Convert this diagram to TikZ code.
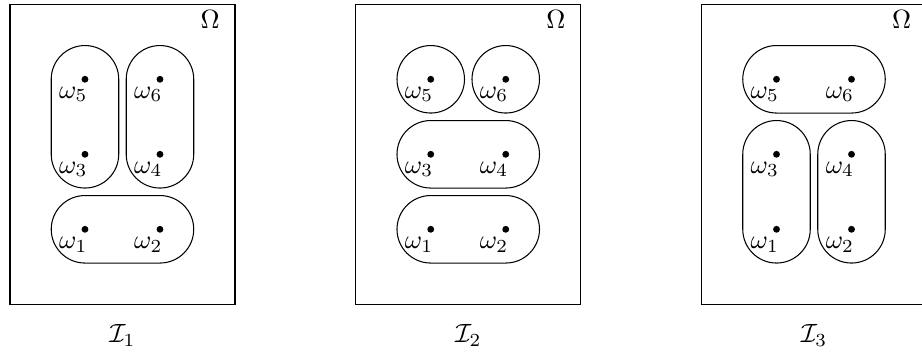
\documentclass[tikz,border=0pt]{standalone}
\usetikzlibrary{calc}

\begin{document}
\begin{tikzpicture}[
  pt/.style={circle, fill, inner sep=0pt, minimum size=2.6pt},
  lab/.style={anchor=base east, inner sep=0pt},
  blob/.style={rounded corners=0.45cm}
]
  \clip (-1.133,-1.663) rectangle (11.16,3.057);

  % partition I_1
  \begin{scope}
    \draw (-1,-1) rectangle (2,3);
    \node (om1) at (1.67,2.8) {$\Omega$};
    \node (cap1) at (0.5,-1.42) {$\mathcal{I}_1$};
    \foreach \i/\x/\y in {1/0/0, 2/1/0, 3/0/1, 4/1/1, 5/0/2, 6/1/2} {
      \node[pt] (a\i) at (\x,\y) {};
      \node[lab] at ($(a\i)+(0.04,-0.25)$) {$\omega_\i$};
    }
    \draw[blob] ($(a5)+(-0.45,0.45)$) rectangle ($(a3)+(0.45,-0.45)$);
    \draw[blob] ($(a6)+(-0.45,0.45)$) rectangle ($(a4)+(0.45,-0.45)$);
    \draw[blob] ($(a1)+(-0.45,0.45)$) rectangle ($(a2)+(0.45,-0.45)$);
  \end{scope}

  % partition I_2
  \begin{scope}[xshift=4.61cm]
    \draw (-1,-1) rectangle (2,3);
    \node (om2) at (1.67,2.8) {$\Omega$};
    \node (cap2) at (0.5,-1.42) {$\mathcal{I}_2$};
    \foreach \i/\x/\y in {1/0/0, 2/1/0, 3/0/1, 4/1/1, 5/0/2, 6/1/2} {
      \node[pt] (b\i) at (\x,\y) {};
      \node[lab] at ($(b\i)+(0.04,-0.25)$) {$\omega_\i$};
    }
    \draw[blob] ($(b5)+(-0.45,0.45)$) rectangle ($(b5)+(0.45,-0.45)$);
    \draw[blob] ($(b6)+(-0.45,0.45)$) rectangle ($(b6)+(0.45,-0.45)$);
    \draw[blob] ($(b3)+(-0.45,0.45)$) rectangle ($(b4)+(0.45,-0.45)$);
    \draw[blob] ($(b1)+(-0.45,0.45)$) rectangle ($(b2)+(0.45,-0.45)$);
  \end{scope}

  % partition I_3
  \begin{scope}[xshift=9.22cm]
    \draw (-1,-1) rectangle (2,3);
    \node (om3) at (1.67,2.8) {$\Omega$};
    \node (cap3) at (0.5,-1.42) {$\mathcal{I}_3$};
    \foreach \i/\x/\y in {1/0/0, 2/1/0, 3/0/1, 4/1/1, 5/0/2, 6/1/2} {
      \node[pt] (c\i) at (\x,\y) {};
      \node[lab] at ($(c\i)+(0.04,-0.25)$) {$\omega_\i$};
    }
    \draw[blob] ($(c5)+(-0.45,0.45)$) rectangle ($(c6)+(0.45,-0.45)$);
    \draw[blob] ($(c3)+(-0.45,0.45)$) rectangle ($(c1)+(0.45,-0.45)$);
    \draw[blob] ($(c4)+(-0.45,0.45)$) rectangle ($(c2)+(0.45,-0.45)$);
  \end{scope}
\end{tikzpicture}
\end{document}
